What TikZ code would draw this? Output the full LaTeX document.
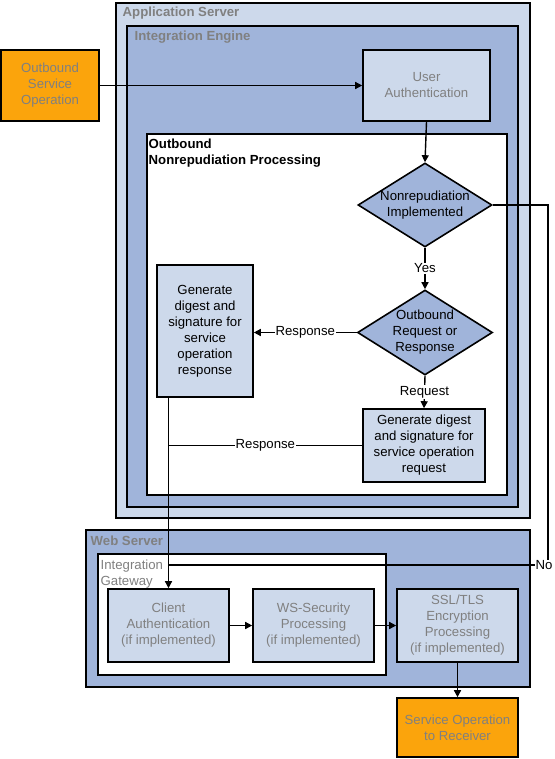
\documentclass[tikz,border=0pt]{standalone}
\usepackage{fontspec}
\setmainfont{Liberation Sans}
\usetikzlibrary{shapes.geometric,arrows.meta}
\definecolor{lblue}{RGB}{205,217,235}
\definecolor{mblue}{RGB}{160,180,218}
\definecolor{orng}{RGB}{251,164,12}
\definecolor{gtxt}{RGB}{128,128,128}
\begin{document}
\begin{tikzpicture}[x=1pt,y=-1pt,
  font=\fontsize{13.2}{16}\selectfont,
  line width=1.4pt,
  container/.style={draw=black, line width=1.6pt, anchor=north west, inner sep=0pt},
  title/.style={anchor=north west, inner sep=0pt, font=\fontsize{13.2}{16}\selectfont\bfseries, text=gtxt, align=left},
  proc/.style={draw=black, line width=1.6pt, fill=lblue, align=center, inner sep=0pt, text=gtxt},
  procb/.style={proc, text=black},
  term/.style={proc, fill=orng},
  dec/.style={diamond, draw=black, line width=1.6pt, fill=mblue, inner sep=0pt},
  arr/.style={-{Triangle[length=7pt,width=7pt]}, line width=1.4pt},
  conn/.style={line width=1.4pt},
  elab/.style={fill=white, inner sep=1pt, text=black}
]
\useasboundingbox (0,0) rectangle (554,759);

% containers
\node[container, fill=lblue, minimum width=414, minimum height=515] (app) at (115,2) {};
\node[title] at (122,6) {Application Server};
\node[container, fill=mblue, minimum width=391, minimum height=481] (ie) at (126,25) {};
\node[title] at (134,30) {Integration Engine};
\node[container, fill=white, minimum width=360, minimum height=361] (onp) at (146,133) {};
\node[title, text=black] at (148,138) {Outbound\\Nonrepudiation Processing};

\node[container, fill=mblue, minimum width=444, minimum height=157] (ws) at (85,529) {};
\node[title] at (90,535) {Web Server};
\node[container, fill=white, minimum width=288, minimum height=121] (ig) at (97,553) {};
\node[title, font=\fontsize{13.2}{16}\selectfont] at (100,559) {Integration\\Gateway};

% nodes
\node[term, minimum width=98, minimum height=71] (oso) at (50,85.5) {Outbound\\Service\\Operation};
\node[proc, minimum width=127, minimum height=71] (ua) at (426.5,85.5) {User\\Authentication};
\node[dec, minimum width=134, minimum height=84] (d1) at (425,205) {};
\node[align=center, inner sep=0pt] at (d1) {Nonrepudiation\\Implemented};
\node[dec, minimum width=135, minimum height=85] (d2) at (425,332.5) {};
\node[align=center, inner sep=0pt] at (d2) {Outbound\\Request or\\Response};
\node[procb, minimum width=96, minimum height=132] (resp) at (205,331) {Generate\\digest and\\signature for\\service\\operation\\response};
\node[procb, minimum width=122, minimum height=73] (req) at (424,445.5) {Generate digest\\and signature for\\service operation\\request};

\node[proc, minimum width=121, minimum height=73] (ca) at (168.5,625.5) {Client\\Authentication\\(if implemented)};
\node[proc, minimum width=121, minimum height=73] (wss) at (313.5,625.5) {WS-Security\\Processing\\(if implemented)};
\node[proc, minimum width=121, minimum height=73] (ssl) at (457.5,625.5) {SSL/TLS\\Encryption\\Processing\\(if implemented)};
\node[term, minimum width=121, minimum height=59] (sor) at (457.5,727.5) {Service Operation\\to Receiver};

% helper coordinates
\coordinate (nc1) at (548,205);
\coordinate (nc2) at (548,565);
\coordinate (nc3) at (ca.north |- nc2);
\coordinate (rj) at (ca.north |- req.west);

% connectors
\draw[arr] (oso.east) -- (ua.west |- oso.east);
\draw[arr] (ua.south) -- (d1.north);
\draw[arr] (d1.south) -- node[elab] {Yes} (d2.north);
\draw[arr] (d2.west) -- node[elab] {Response} (resp.east |- d2.west);
\draw[arr] (d2.south) -- node[elab] {Request} (req.north);
\draw[conn] (req.west) -- node[elab] {Response} (rj);
\draw[arr] (ca.north |- resp.south) -- (ca.north);
\draw[conn] (d1.east) -- (nc1) -- (nc2) -- (nc3);
\node[elab, inner sep=0.5pt] at (544,565) {No};
\draw[arr] (ca.east) -- (wss.west);
\draw[arr] (wss.east) -- (ssl.west);
\draw[arr] (ssl.south) -- (sor.north);
\end{tikzpicture}
\end{document}
